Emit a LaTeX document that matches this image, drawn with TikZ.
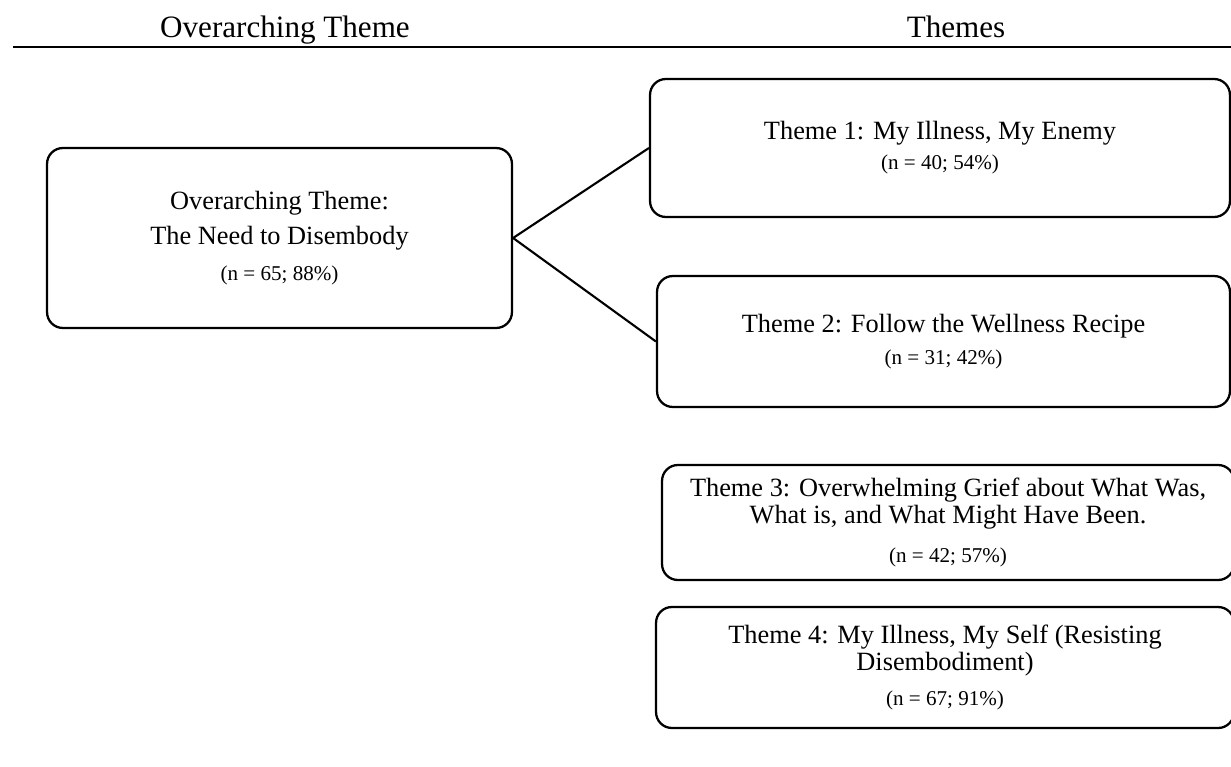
\documentclass[tikz,border=0pt]{standalone}
\usepackage{fontspec}
\setmainfont{Liberation Serif}
\tikzset{
  themebox/.style={draw, line width=1.3pt, rounded corners=9pt, align=center, inner sep=0pt,
    font=\fontsize{15}{15.5}\selectfont},
  headtext/.style={anchor=base, font=\fontsize{17.7}{20}\selectfont},
  link/.style={line width=1.2pt},
}
\newcommand{\share}[1]{{\fontsize{12}{14}\selectfont #1}}
\begin{document}
\begin{tikzpicture}[x=0.02cm, y=-0.02cm]
  \useasboundingbox (0,0) rectangle (1231,767);
  \clip (0,0) rectangle (1231,767);
  % column heads
  \node[headtext] (headleft) at (285,38) {Overarching Theme};
  \node[headtext] (headright) at (956,38) {Themes};
  \draw[line width=1.1pt] (13,47) -- (1231,47);
  % boxes
  \node[themebox, minimum width=9.3cm, minimum height=3.6cm] (overarch) at (279.5,238)
    {Overarching Theme:\\[4.5pt]The Need to Disembody\\[4.5pt]\share{(n = 65; 88\%)}};
  \node[themebox, minimum width=11.6cm, minimum height=2.76cm] (themeone) at (940,148)
    {Theme 1: My Illness, My Enemy\\[1.5pt]\share{(n = 40; 54\%)}};
  \node[themebox, minimum width=11.46cm, minimum height=2.62cm] (themetwo) at (943.5,341.5)
    {Theme 2: Follow the Wellness Recipe\\[2.5pt]\share{(n = 31; 42\%)}};
  \node[themebox, minimum width=11.44cm, minimum height=2.3cm] (themethree) at (948,522.5)
    {Theme 3: Overwhelming Grief about What Was,\\What is, and What Might Have Been.\\[7pt]\share{(n = 42; 57\%)}};
  \node[themebox, minimum width=11.56cm, minimum height=2.42cm] (themefour) at (945,667.5)
    {Theme 4: My Illness, My Self (Resisting\\Disembodiment)\\[4.5pt]\share{(n = 67; 91\%)}};
  % connectors
  \draw[link] (overarch.east) -- (themeone.west);
  \draw[link] (overarch.east) -- (themetwo.west);
\end{tikzpicture}
\end{document}
